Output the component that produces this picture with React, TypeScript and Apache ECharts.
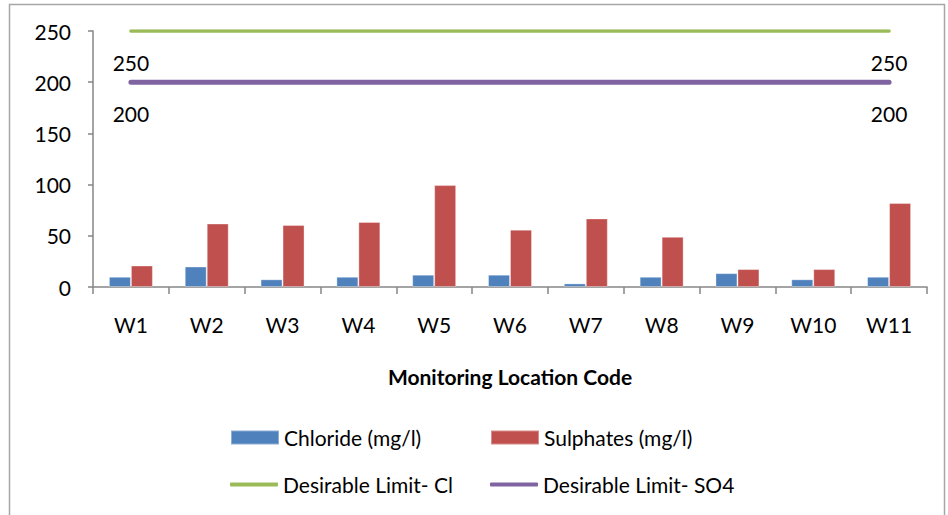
import React, { useEffect, useRef } from "react";
import * as echarts from "echarts";

const categories = ["W1", "W2", "W3", "W4", "W5", "W6", "W7", "W8", "W9", "W10", "W11"];
const chloride = [10, 20, 7.5, 10, 12, 12, 3.5, 10, 13.5, 7.5, 10];
const sulphates = [21, 62, 60.5, 63.5, 99.5, 56, 67, 49, 17.5, 17.5, 82];
const limitCl = [250, 250, 250, 250, 250, 250, 250, 250, 250, 250, 250];
const limitSO4 = [200, 200, 200, 200, 200, 200, 200, 200, 200, 200, 200];
const yTicks = [0, 50, 100, 150, 200, 250];

const FONT = "Lato";
const FS = 21;

function endLabels(values: number[]) {
  return values.map((v, i) => ({
    value: v,
    label: { show: i === 0 || i === values.length - 1 },
  }));
}

export default function App() {
  const ref = useRef<HTMLDivElement>(null);
  useEffect(() => {
    if (!ref.current) return;
    const chart = echarts.init(ref.current, undefined, { renderer: "svg" });
    const legendText = { fontFamily: FONT, fontSize: FS, color: "#000" };
    const lineLabel = {
      show: false,
      position: "bottom",
      distance: 21,
      fontFamily: FONT,
      fontSize: FS,
      color: "#000",
    };
    chart.setOption({
      animation: false,
      backgroundColor: "#fff",
      graphic: [
        {
          type: "rect",
          shape: { x: 9.5, y: 4.5, width: 935, height: 530 },
          style: { fill: "none", stroke: "#a6a6a6", lineWidth: 1.5 },
          silent: true,
        },
      ],
      grid: { left: 93, right: 21, top: 31, bottom: 228 },
      legend: [
        { data: ["Chloride (mg/l)"], left: 230, top: 427, padding: 0, itemWidth: 48, itemHeight: 14, icon: "rect", textStyle: legendText },
        { data: ["Sulphates (mg/l)"], left: 490, top: 427, padding: 0, itemWidth: 48, itemHeight: 14, icon: "rect", textStyle: legendText },
        { data: ["Desirable Limit- Cl"], left: 230, top: 474, padding: 0, itemWidth: 48, itemHeight: 4, icon: "roundRect", textStyle: legendText },
        { data: ["Desirable Limit- SO4"], left: 490, top: 474, padding: 0, itemWidth: 48, itemHeight: 4, icon: "roundRect", textStyle: legendText },
      ],
      xAxis: {
        type: "category",
        data: categories,
        boundaryGap: true,
        name: "Monitoring Location Code",
        nameLocation: "middle",
        nameGap: 79,
        nameTextStyle: { fontFamily: FONT, fontSize: FS, fontWeight: "bold", color: "#000" },
        axisLine: { lineStyle: { color: "#868686", width: 1.5 } },
        axisTick: { show: true, length: 7, alignWithLabel: false, lineStyle: { color: "#868686", width: 1.5 } },
        axisLabel: { margin: 27, fontFamily: FONT, fontSize: FS, color: "#000" },
        splitLine: { show: false },
      },
      yAxis: {
        type: "value",
        min: yTicks[0],
        max: yTicks[yTicks.length - 1],
        interval: 50,
        axisLine: { show: true, lineStyle: { color: "#868686", width: 1.5 } },
        axisTick: { show: true, length: 5, lineStyle: { color: "#868686", width: 1.5 } },
        axisLabel: { margin: 22, fontFamily: FONT, fontSize: FS, color: "#000" },
        splitLine: { show: false },
      },
      series: [
        {
          name: "Chloride (mg/l)",
          type: "bar",
          data: chloride,
          barGap: "0%",
          barCategoryGap: "42%",
          itemStyle: { color: "#4f81bd", borderColor: "rgba(255,255,255,0.35)", borderWidth: 1 },
        },
        {
          name: "Sulphates (mg/l)",
          type: "bar",
          data: sulphates,
          barGap: "0%",
          barCategoryGap: "42%",
          itemStyle: { color: "#c0504d", borderColor: "rgba(255,255,255,0.35)", borderWidth: 1 },
        },
        {
          name: "Desirable Limit- Cl",
          type: "line",
          data: endLabels(limitCl),
          symbol: "circle",
          symbolSize: 0.01,
          showSymbol: true,
          itemStyle: { color: "#9bbb59" },
          lineStyle: { color: "#9bbb59", width: 3.5, cap: "round" },
          label: lineLabel,
          z: 3,
        },
        {
          name: "Desirable Limit- SO4",
          type: "line",
          data: endLabels(limitSO4),
          symbol: "circle",
          symbolSize: 0.01,
          showSymbol: true,
          itemStyle: { color: "#8064a2" },
          lineStyle: { color: "#8064a2", width: 5, cap: "round" },
          label: lineLabel,
          z: 3,
        },
      ],
    });
    return () => chart.dispose();
  }, []);
  return (
    <div
      ref={ref}
      style={{ position: "fixed", left: 0, top: 0, width: 948, height: 515, background: "#fff" }}
    />
  );
}
